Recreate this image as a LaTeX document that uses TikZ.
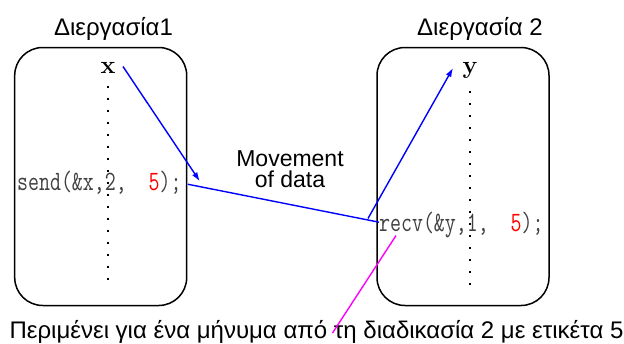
\documentclass[tikz,border=0pt]{standalone}
\usepackage{fontspec}
\usetikzlibrary{arrows.meta}
\setmainfont{Liberation Sans}
\newfontfamily\codefont[FakeStretch=0.76]{Latin Modern Mono}
\newfontfamily\varfont{Latin Modern Roman}
\definecolor{linkblue}{RGB}{0,0,255}
\definecolor{notepink}{RGB}{255,0,255}
\begin{document}
\begin{tikzpicture}[
    x=1pt, y=-1pt,
    proc/.style={rectangle, draw, line width=1.5pt, rounded corners=28pt, minimum width=172pt, minimum height=258pt},
    title/.style={font=\fontsize{24}{28}\selectfont},
    var/.style={font=\fontsize{25}{28}\selectfont\varfont\bfseries},
    call/.style={font=\fontsize{28}{32}\selectfont\codefont, text=black!75, inner sep=0pt},
    timeline/.style={line width=1.5pt, dash pattern=on 2.5pt off 9.5pt},
    arrow/.style={linkblue, line width=1.4pt, -{Latex[length=9pt,width=6pt]}},
    pointer/.style={notepink, line width=1.4pt}
]
    \useasboundingbox (0,0) rectangle (624,343);

    % the two processes
    \node (box1) [proc] at (100.7,176.5) {};
    \node (box2) [proc] at (463,176.5) {};
    \node (title1) [title, anchor=base] at (113.5,35) {Διεργασία1};
    \node (title2) [title, anchor=base] at (480,35) {Διεργασία 2};

    \node (xvar) [var, anchor=base] at (108,73) {x};
    \node (yvar) [var, anchor=base] at (470,73) {y};

    \draw [timeline] ([yshift=-9pt]xvar.south) -- ++(0,201);
    \draw [timeline] ([yshift=-9pt]yvar.south) -- ++(0,201);

    \node (send) [call, anchor=base west] at (17,190) {send(\&x,2,~~{\color{red}5});};
    \node (recv) [call, anchor=base west] at (379,231) {recv(\&y,1,~~{\color{red}5});};

    \node (move) [title, font=\fontsize{23}{21}\selectfont, align=center, inner sep=0pt] at (290,169) {Movement\\of data};
    \node (note) [title, anchor=base] at (316.5,338) {Περιμένει για ένα μήνυμα από τη διαδικασία 2 με ετικέτα 5};

    % message path
    \draw [arrow] ([shift={(4,-1)}]xvar.east) -- ([shift={(18,-1)}]send.east);
    \draw [arrow, -] ([shift={(6,2)}]send.east) -- ([yshift=2.3pt]recv.west);
    \draw [arrow] ([shift={(-11,-6)}]recv.west) -- ([shift={(-6,-2)}]yvar.west);
    \draw [pointer] ([shift={(17,-2)}]recv.south west) -- ([shift={(16,-5)}]note.base);
\end{tikzpicture}
\end{document}
